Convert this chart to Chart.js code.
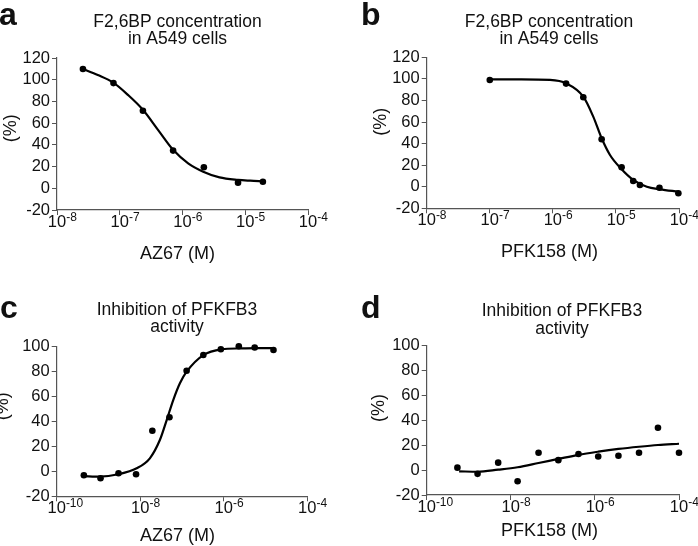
<!DOCTYPE html>
<html><head><meta charset="utf-8">
<script src="https://cdn.jsdelivr.net/npm/chart.js@4/dist/chart.umd.min.js"></script>
<style>
html,body{margin:0;padding:0;background:#fff;}
#wrap{position:relative;width:698px;height:546px;overflow:hidden;background:#fff;}
canvas{position:absolute;}
</style></head><body>
<div id="wrap">
<canvas id="ca" width="349" height="273" style="left:0;top:0"></canvas>
<canvas id="cb" width="349" height="273" style="left:349px;top:0"></canvas>
<canvas id="cc" width="349" height="273" style="left:0;top:273px"></canvas>
<canvas id="cd" width="349" height="273" style="left:349px;top:273px"></canvas>
</div>
<script>
// ---------- data (concentrations in M, responses in %) ----------
const aConc = [2.59e-8, 7.94e-8, 2.34e-7, 7.08e-7, 2.19e-6, 7.67e-6, 1.91e-5];
const aValues = [109.8, 96.9, 71.4, 34.7, 19.4, 5.2, 6.0];
const aCurveConc = [2.59e-8, 4.47e-8, 7.80e-8, 1.35e-7, 2.34e-7, 4.07e-7, 7.08e-7, 1.23e-6, 2.14e-6, 3.89e-6, 7.66e-6, 1.20e-5, 1.91e-5];
const aCurveValues = [109.8, 104.3, 97.5, 86, 72.3, 53.8, 35.4, 23, 15.3, 10, 7.7, 7, 6.5];

const bConc = [1.0e-7, 1.62e-6, 3.04e-6, 5.94e-6, 1.23e-5, 1.88e-5, 2.40e-5, 4.90e-5, 9.77e-5];
const bValues = [99, 95.6, 83, 44, 18, 5.3, 1.6, -0.9, -6];
const bCurveConc = [1.0e-7, 3.16e-7, 9.02e-7, 1.62e-6, 3.04e-6, 4.37e-6, 5.94e-6, 8.05e-6, 1.19e-5, 1.88e-5, 3.09e-5, 5.01e-5, 9.77e-5];
const bCurveValues = [99.5, 99.5, 99, 95.9, 83.5, 65, 44.9, 29.4, 17.1, 6.3, 0, -2.4, -4.6];

const cConc = [4.47e-10, 1.12e-9, 3.02e-9, 7.94e-9, 1.95e-8, 5.01e-8, 1.29e-7, 3.24e-7, 8.51e-7, 2.29e-6, 5.50e-6, 1.55e-5];
const cValues = [-3.2, -5.6, -1.6, -2.4, 32.5, 43.2, 80.5, 93, 97.6, 100, 99, 97];
const cCurveConc = [4.34e-10, 1.09e-9, 2.99e-9, 8.22e-9, 1.70e-8, 2.95e-8, 4.30e-8, 6.17e-8, 8.91e-8, 1.29e-7, 3.24e-7, 8.91e-7, 2.51e-6, 6.31e-6, 1.55e-5];
const cCurveValues = [-3.8, -4.3, -2.4, 2.4, 10.4, 25, 41, 57, 70.4, 79.7, 93, 97.6, 98.3, 98.5, 98.5];

const dConc = [5.37e-10, 1.62e-9, 5.01e-9, 1.45e-8, 4.57e-8, 1.35e-7, 4.07e-7, 1.20e-6, 3.63e-6, 1.12e-5, 3.16e-5, 1.0e-4];
const dValues = [2, -3, 6, -9, 14, 8, 13, 11, 11.5, 14, 34, 14];
const dCurveConc = [5.9e-10, 1.62e-9, 5.01e-9, 1.45e-8, 4.57e-8, 1.35e-7, 4.07e-7, 1.20e-6, 3.63e-6, 1.12e-5, 3.16e-5, 1.0e-4];
const dCurveValues = [-1, -1.3, 0.35, 2.3, 5.7, 9, 12.3, 14.8, 17, 18.8, 20.2, 21.2];

const xTicksTop = [1e-8, 1e-7, 1e-6, 1e-5, 1e-4];
const xTicksBottom = [1e-10, 1e-8, 1e-6, 1e-4];
const yRangeTop = [-20, 120];
const yRangeBottom = [-20, 100];

const titleTop = ['F2,6BP concentration', 'in A549 cells'];
const titleBottom = ['Inhibition of PFKFB3', 'activity'];
const yLabel = '(%)';
const xLabelAZ = 'AZ67 (M)';
const xLabelPFK = 'PFK158 (M)';

// ---------- drawing ----------
const FONT = '"Liberation Sans", Arial, Helvetica, sans-serif';
const TXT = '#111';
const AX = '#555';

const panelText = {
  id: 'panelText',
  afterDraw(chart, args, o) {
    const ctx = chart.ctx;
    ctx.save();
    ctx.fillStyle = TXT;
    ctx.textBaseline = 'alphabetic';
    ctx.font = 'bold 32px ' + FONT;
    ctx.textAlign = 'left';
    ctx.fillText(o.letter, o.letterX, o.letterY);
    ctx.font = '17.5px ' + FONT;
    ctx.textAlign = 'center';
    o.title.forEach((t, i) => ctx.fillText(t, o.titleX, o.titleY + i * 17.5));
    ctx.font = '18px ' + FONT;
    ctx.fillText(o.xLabel, o.xLabelX, o.xLabelY);
    ctx.save();
    ctx.translate(o.yLabelX, o.yLabelY);
    ctx.rotate(-Math.PI / 2);
    ctx.textBaseline = 'middle';
    ctx.fillText(o.yLabel, 0, 0);
    ctx.restore();
    // x tick labels as 10 with superscript exponent
    const xs = chart.scales.x;
    const base = chart.chartArea.bottom;
    xs.ticks.forEach(t => {
      const px = xs.getPixelForValue(t.value);
      const e = Math.round(Math.log10(t.value));
      ctx.font = '16.5px ' + FONT;
      ctx.textAlign = 'center';
      const w = ctx.measureText('10').width;
      ctx.fillText('10', px, base + 17);
      ctx.font = '12px ' + FONT;
      ctx.textAlign = 'left';
      ctx.fillText(String(e), px + w / 2, base + 11);
    });
    ctx.restore();
  }
};

function makeChart(id, conc, vals, cConcArr, cVals, xTicks, yRange, plot, text) {
  const W = 349, H = 273;
  const yW = 50, xH = 30;
  return new Chart(document.getElementById(id), {
    type: 'scatter',
    data: {
      datasets: [
        {
          data: cConcArr.map((x, i) => ({ x: x, y: cVals[i] })),
          showLine: true, borderColor: '#000', borderWidth: 2.2,
          pointRadius: 0, cubicInterpolationMode: 'monotone', fill: false, clip: false
        },
        {
          data: conc.map((x, i) => ({ x: x, y: vals[i] })),
          showLine: false, pointRadius: 3.3, pointBackgroundColor: '#000',
          pointBorderColor: '#000', pointBorderWidth: 0, clip: false
        }
      ]
    },
    options: {
      responsive: false, animation: false, devicePixelRatio: 1,
      events: [],
      layout: { padding: { left: plot.l - yW, right: W - plot.r, top: plot.t, bottom: H - plot.b - xH } },
      plugins: { legend: { display: false }, tooltip: { enabled: false }, title: { display: false }, panelText: text },
      scales: {
        x: {
          type: 'logarithmic', min: xTicks[0], max: xTicks[xTicks.length - 1],
          afterBuildTicks: s => { s.ticks = xTicks.map(v => ({ value: v })); },
          afterFit: s => { s.height = xH; },
          ticks: { display: false, autoSkip: false },
          grid: { display: true, drawOnChartArea: false, drawTicks: true, tickLength: 5, color: AX, lineWidth: 1 },
          border: { display: true, color: AX, width: 1.2 }
        },
        y: {
          type: 'linear', min: yRange[0], max: yRange[1],
          ticks: { stepSize: 20, autoSkip: false, color: TXT, font: { family: FONT, size: 16.5 }, padding: 2 },
          afterFit: s => { s.width = yW; },
          grid: { display: true, drawOnChartArea: false, drawTicks: true, tickLength: 5, color: AX, lineWidth: 1 },
          border: { display: true, color: AX, width: 1.2 }
        }
      }
    },
    plugins: [panelText]
  });
}

makeChart('ca', aConc, aValues, aCurveConc, aCurveValues, xTicksTop, yRangeTop,
  { l: 57, r: 308, t: 58, b: 210 },
  { letter: 'a', letterX: -1, letterY: 25, title: titleTop, titleX: 177.5, titleY: 26.7,
    xLabel: xLabelAZ, xLabelX: 177.5, xLabelY: 258.5, yLabel: yLabel, yLabelX: 11, yLabelY: 128.3 });

makeChart('cb', bConc, bValues, bCurveConc, bCurveValues, xTicksTop, yRangeTop,
  { l: 77.7, r: 330, t: 57.3, b: 208.3 },
  { letter: 'b', letterX: 12, letterY: 25, title: titleTop, titleX: 200, titleY: 26.7,
    xLabel: xLabelPFK, xLabelX: 200.5, xLabelY: 257, yLabel: yLabel, yLabelX: 31.7, yLabelY: 121.7 });

makeChart('cc', cConc, cValues, cCurveConc, cCurveValues, xTicksBottom, yRangeBottom,
  { l: 56.7, r: 307.3, t: 73.3, b: 223.3 },
  { letter: 'c', letterX: 0, letterY: 45, title: titleBottom, titleX: 177, titleY: 41.7,
    xLabel: xLabelAZ, xLabelX: 177.5, xLabelY: 268.3, yLabel: yLabel, yLabelX: 3.5, yLabelY: 133.3 });

makeChart('cd', dConc, dValues, dCurveConc, dCurveValues, xTicksBottom, yRangeBottom,
  { l: 77.7, r: 330, t: 72.7, b: 222 },
  { letter: 'd', letterX: 12, letterY: 45, title: titleBottom, titleX: 213, titleY: 43.3,
    xLabel: xLabelPFK, xLabelX: 200.5, xLabelY: 263.3, yLabel: yLabel, yLabelX: 30, yLabelY: 135 });
</script>
</body></html>
